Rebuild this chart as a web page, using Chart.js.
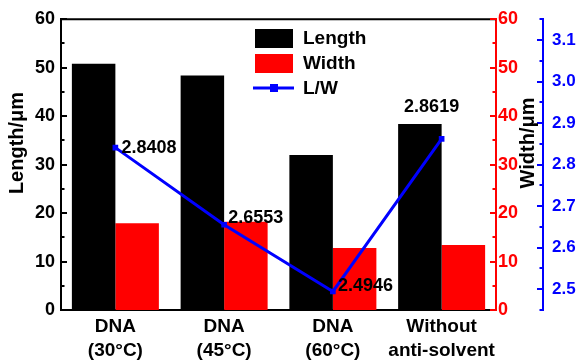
<!DOCTYPE html>
<html>
<head>
<meta charset="utf-8">
<script src="https://cdn.jsdelivr.net/npm/chart.js@4.4.1/dist/chart.umd.min.js"></script>
<style>
  html, body { margin: 0; padding: 0; background: #fff; }
  #wrap { width: 582px; height: 363px; }
</style>
</head>
<body>
<div id="wrap"><canvas id="chart"></canvas></div>
<script>
// data
const categories = [["DNA", "(30°C)"], ["DNA", "(45°C)"], ["DNA", "(60°C)"], ["Without", "anti-solvent"]];
const lengthValues = [50.8, 48.4, 32.0, 38.4];
const widthValues = [17.9, 18.2, 12.8, 13.4];
const ratioValues = [2.8408, 2.6553, 2.4946, 2.8619];
const umTicks = [0, 10, 20, 30, 40, 50, 60];
const ratioTicks = [2.5, 2.6, 2.7, 2.8, 2.9, 3.0, 3.1];

const FONT = "'Liberation Sans', Arial, sans-serif";
const RED = "#ff0000";
const BLUE = "#0000ff";

// where each L/W label sits relative to its point
const labelOffsets = [[6, 0, "left"], [4, -7, "left"], [5, -5, "left"], [-10, -32, "center"]];

function fixTicks(list) {
  return function (scale) {
    scale.ticks = list.map((v) => ({ value: v }));
  };
}

// ticks pointing into the plot, plus minor ticks half way
function drawAxisTicks(ctx, scale, list, x, dir, color) {
  ctx.strokeStyle = color;
  ctx.lineWidth = 2;
  let step = list[1] - list[0];
  let all = [];
  list.forEach((v) => all.push([v, 6]));
  for (let i = 0; i < list.length; i++) {
    all.push([list[i] + step / 2, 3.5]);
    if (i == 0) all.push([list[i] - step / 2, 3.5]);
  }
  all.forEach(([v, len]) => {
    if (v < scale.min - 1e-9 || v > scale.max + 1e-9) return;
    let y = Math.round(scale.getPixelForValue(v));
    ctx.beginPath();
    ctx.moveTo(x, y);
    ctx.lineTo(x + dir * len, y);
    ctx.stroke();
  });
}

const extras = {
  id: "extras",
  afterDraw(chart) {
    const ctx = chart.ctx;
    const area = chart.chartArea;
    const s = chart.scales;
    ctx.save();

    // top frame line
    ctx.strokeStyle = "#000";
    ctx.lineWidth = 2;
    ctx.beginPath();
    ctx.moveTo(area.left - 1, area.top);
    ctx.lineTo(area.right, area.top);
    ctx.stroke();

    drawAxisTicks(ctx, s.y, umTicks, area.left, 1, "#000");
    drawAxisTicks(ctx, s.y1, umTicks, area.right, -1, RED);
    drawAxisTicks(ctx, s.y2, ratioTicks, s.y2.left, -1, BLUE);

    // axis titles
    ctx.fillStyle = "#000";
    ctx.font = "bold 20px " + FONT;
    ctx.textAlign = "center";
    ctx.textBaseline = "middle";
    [["Length/\u03bcm", 17], ["Width/\u03bcm", 528]].forEach(([t, x]) => {
      ctx.save();
      ctx.translate(x, 143);
      ctx.rotate(-Math.PI / 2);
      ctx.fillText(t, 0, 0);
      ctx.restore();
    });

    // L/W value labels
    const meta = chart.getDatasetMeta(2);
    ctx.font = "bold 18px " + FONT;
    meta.data.forEach((pt, i) => {
      let o = labelOffsets[i];
      ctx.textAlign = o[2];
      ctx.fillText(ratioValues[i].toFixed(4), pt.x + o[0], pt.y + o[1]);
    });

    // legend inside the plot
    const ds = chart.data.datasets;
    let lx = 255, ly = 38;
    ctx.textAlign = "left";
    ctx.font = "bold 19px " + FONT;
    for (let i = 0; i < 3; i++) {
      let y = ly + i * 25;
      if (i < 2) {
        ctx.fillStyle = ds[i].backgroundColor;
        ctx.fillRect(lx, y - 9, 38, 19);
      } else {
        ctx.strokeStyle = ds[i].borderColor;
        ctx.lineWidth = 3;
        ctx.beginPath();
        ctx.moveTo(lx - 2, y);
        ctx.lineTo(lx + 39, y);
        ctx.stroke();
        ctx.fillStyle = ds[i].borderColor;
        ctx.fillRect(lx + 15, y - 4, 8, 8);
      }
      ctx.fillStyle = "#000";
      ctx.fillText(ds[i].label, lx + 48, y + 1);
    }
    ctx.restore();
  },
};

new Chart(document.getElementById("chart"), {
  type: "bar",
  data: {
    labels: categories,
    datasets: [
      {
        label: "Length",
        data: lengthValues,
        backgroundColor: "#000000",
        yAxisID: "y",
        order: 2,
        categoryPercentage: 0.8,
        barPercentage: 1.0,
      },
      {
        label: "Width",
        data: widthValues,
        backgroundColor: RED,
        yAxisID: "y1",
        order: 2,
        categoryPercentage: 0.8,
        barPercentage: 1.0,
      },
      {
        type: "line",
        label: "L/W",
        data: ratioValues,
        borderColor: BLUE,
        backgroundColor: BLUE,
        borderWidth: 3,
        pointStyle: "rect",
        pointRadius: 4,
        pointBackgroundColor: BLUE,
        pointBorderWidth: 0,
        yAxisID: "y2",
        order: 1,
      },
    ],
  },
  options: {
    responsive: true,
    maintainAspectRatio: false,
    animation: false,
    layout: { padding: { top: 16, left: 0, right: 0, bottom: 0 } },
    plugins: {
      legend: { display: false },
      tooltip: { enabled: false },
    },
    scales: {
      x: {
        grid: { display: false, drawTicks: false },
        border: { display: true, color: "#000", width: 2 },
        ticks: {
          color: "#000",
          font: { family: FONT, size: 19, weight: "bold", lineHeight: 1.3 },
          padding: 4,
          maxRotation: 0,
          autoSkip: false,
        },
        afterFit: (s) => { s.height = 53; },
      },
      y: {
        position: "left",
        min: 0,
        max: 60,
        grid: { display: false, drawTicks: false },
        border: { display: true, color: "#000", width: 2 },
        ticks: { color: "#000", font: { family: FONT, size: 18, weight: "bold" }, padding: 6 },
        afterBuildTicks: fixTicks(umTicks),
        afterFit: (s) => { s.width = 61; },
      },
      y1: {
        position: "right",
        min: 0,
        max: 60,
        grid: { display: false, drawTicks: false },
        border: { display: true, color: RED, width: 2 },
        ticks: { color: RED, font: { family: FONT, size: 18, weight: "bold" }, padding: 2 },
        afterBuildTicks: fixTicks(umTicks),
        afterFit: (s) => { s.width = 47; },
      },
      y2: {
        position: "right",
        min: 2.45,
        max: 3.15,
        grid: { display: false, drawTicks: false },
        border: { display: true, color: BLUE, width: 2 },
        ticks: {
          color: BLUE,
          font: { family: FONT, size: 17, weight: "bold" },
          padding: 9,
          callback: (v) => Number(v).toFixed(1),
        },
        afterBuildTicks: fixTicks(ratioTicks),
        afterFit: (s) => { s.width = 39; },
      },
    },
  },
  plugins: [extras],
});
</script>
</body>
</html>
